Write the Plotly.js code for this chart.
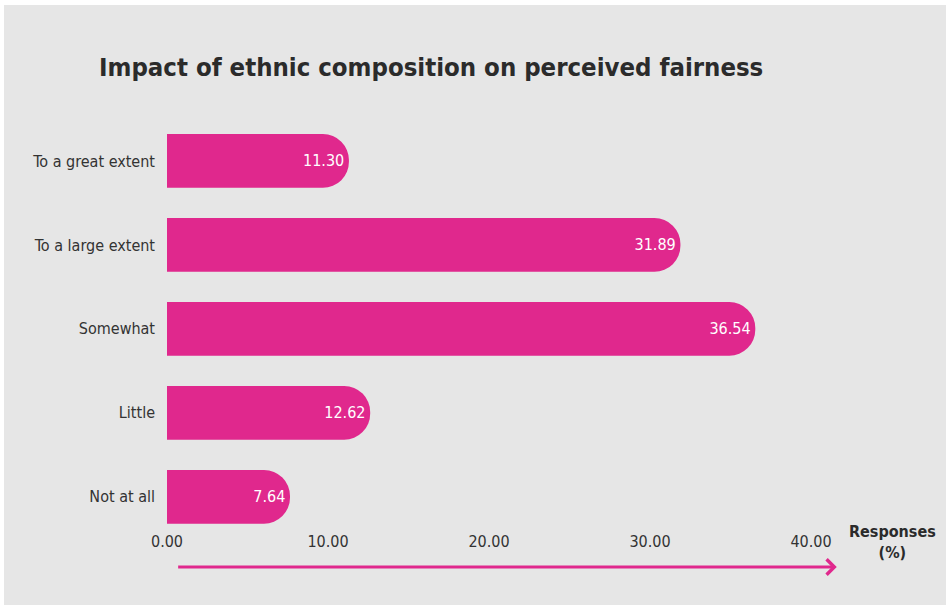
<!DOCTYPE html>
<html>
<head>
<meta charset="utf-8">
<script src="https://cdn.plot.ly/plotly-3.0.1.min.js"></script>
<style>
  html, body { margin: 0; padding: 0; background: #ffffff; }
  #chart { position: absolute; left: 4px; top: 5px; width: 942px; height: 600px; }
</style>
</head>
<body>
<div id="chart"></div>
<script>
const categories = ["To a great extent", "To a large extent", "Somewhat", "Little", "Not at all"];
const values = [11.30, 31.89, 36.54, 12.62, 7.64];
const tickValues = [0, 10, 20, 30, 40];
const tickLabels = ["0.00", "10.00", "20.00", "30.00", "40.00"];
const titleText = "Impact of ethnic composition on perceived fairness";
const axisLabel = "Responses<br>(%)";

const pink = "#e0288d";
const condensed = "'DejaVu Sans Condensed', 'Roboto', sans-serif";

const trace = {
  type: "bar",
  orientation: "h",
  x: values,
  y: categories,
  marker: { color: pink, cornerradius: "50%" },
  text: values.map(v => v.toFixed(2)),
  textposition: "inside",
  insidetextanchor: "end",
  textfont: { color: "#ffffff", size: 16, family: condensed },
  hoverinfo: "none",
  cliponaxis: false
};

const layout = {
  width: 942,
  height: 600,
  paper_bgcolor: "#e6e6e6",
  plot_bgcolor: "#e6e6e6",
  margin: { l: 163, r: 135, t: 114, b: 78 },
  bargap: 0.36,
  showlegend: false,
  title: {
    text: "<b>" + titleText + "</b>",
    font: { family: condensed, size: 25.5, color: "#2b2b2b" },
    x: 0, xref: "paper", xanchor: "left",
    y: 1, yref: "container", yanchor: "top",
    pad: { t: 53, l: -68 }
  },
  xaxis: {
    range: [0, 40],
    tickvals: tickValues,
    ticktext: tickLabels,
    showgrid: false,
    zeroline: false,
    showline: false,
    ticks: "",
    ticklabelstandoff: 3,
    tickfont: { family: condensed, size: 16, color: "#333333" },
    fixedrange: true
  },
  yaxis: {
    type: "category",
    range: [4.36, -0.5],
    showgrid: false,
    zeroline: false,
    showline: false,
    ticks: "",
    ticklabelstandoff: 11,
    tickfont: { family: condensed, size: 16, color: "#333333" },
    fixedrange: true
  },
  annotations: [
    {
      xref: "x", yref: "paper",
      x: 41.6, y: -0.098,
      axref: "x", ayref: "paper",
      ax: 0.6, ay: -0.098,
      showarrow: true,
      arrowhead: 4,
      arrowsize: 1,
      arrowwidth: 3,
      arrowcolor: pink,
      text: ""
    },
    {
      xref: "paper", yref: "paper",
      x: 1.126, y: -0.037,
      xanchor: "center", yanchor: "middle",
      showarrow: false,
      align: "center",
      text: "<b>" + axisLabel + "</b>",
      font: { family: condensed, size: 16, color: "#2b2b2b" }
    }
  ]
};

Plotly.newPlot("chart", [trace], layout, { displayModeBar: false, staticPlot: true });
</script>
</body>
</html>
